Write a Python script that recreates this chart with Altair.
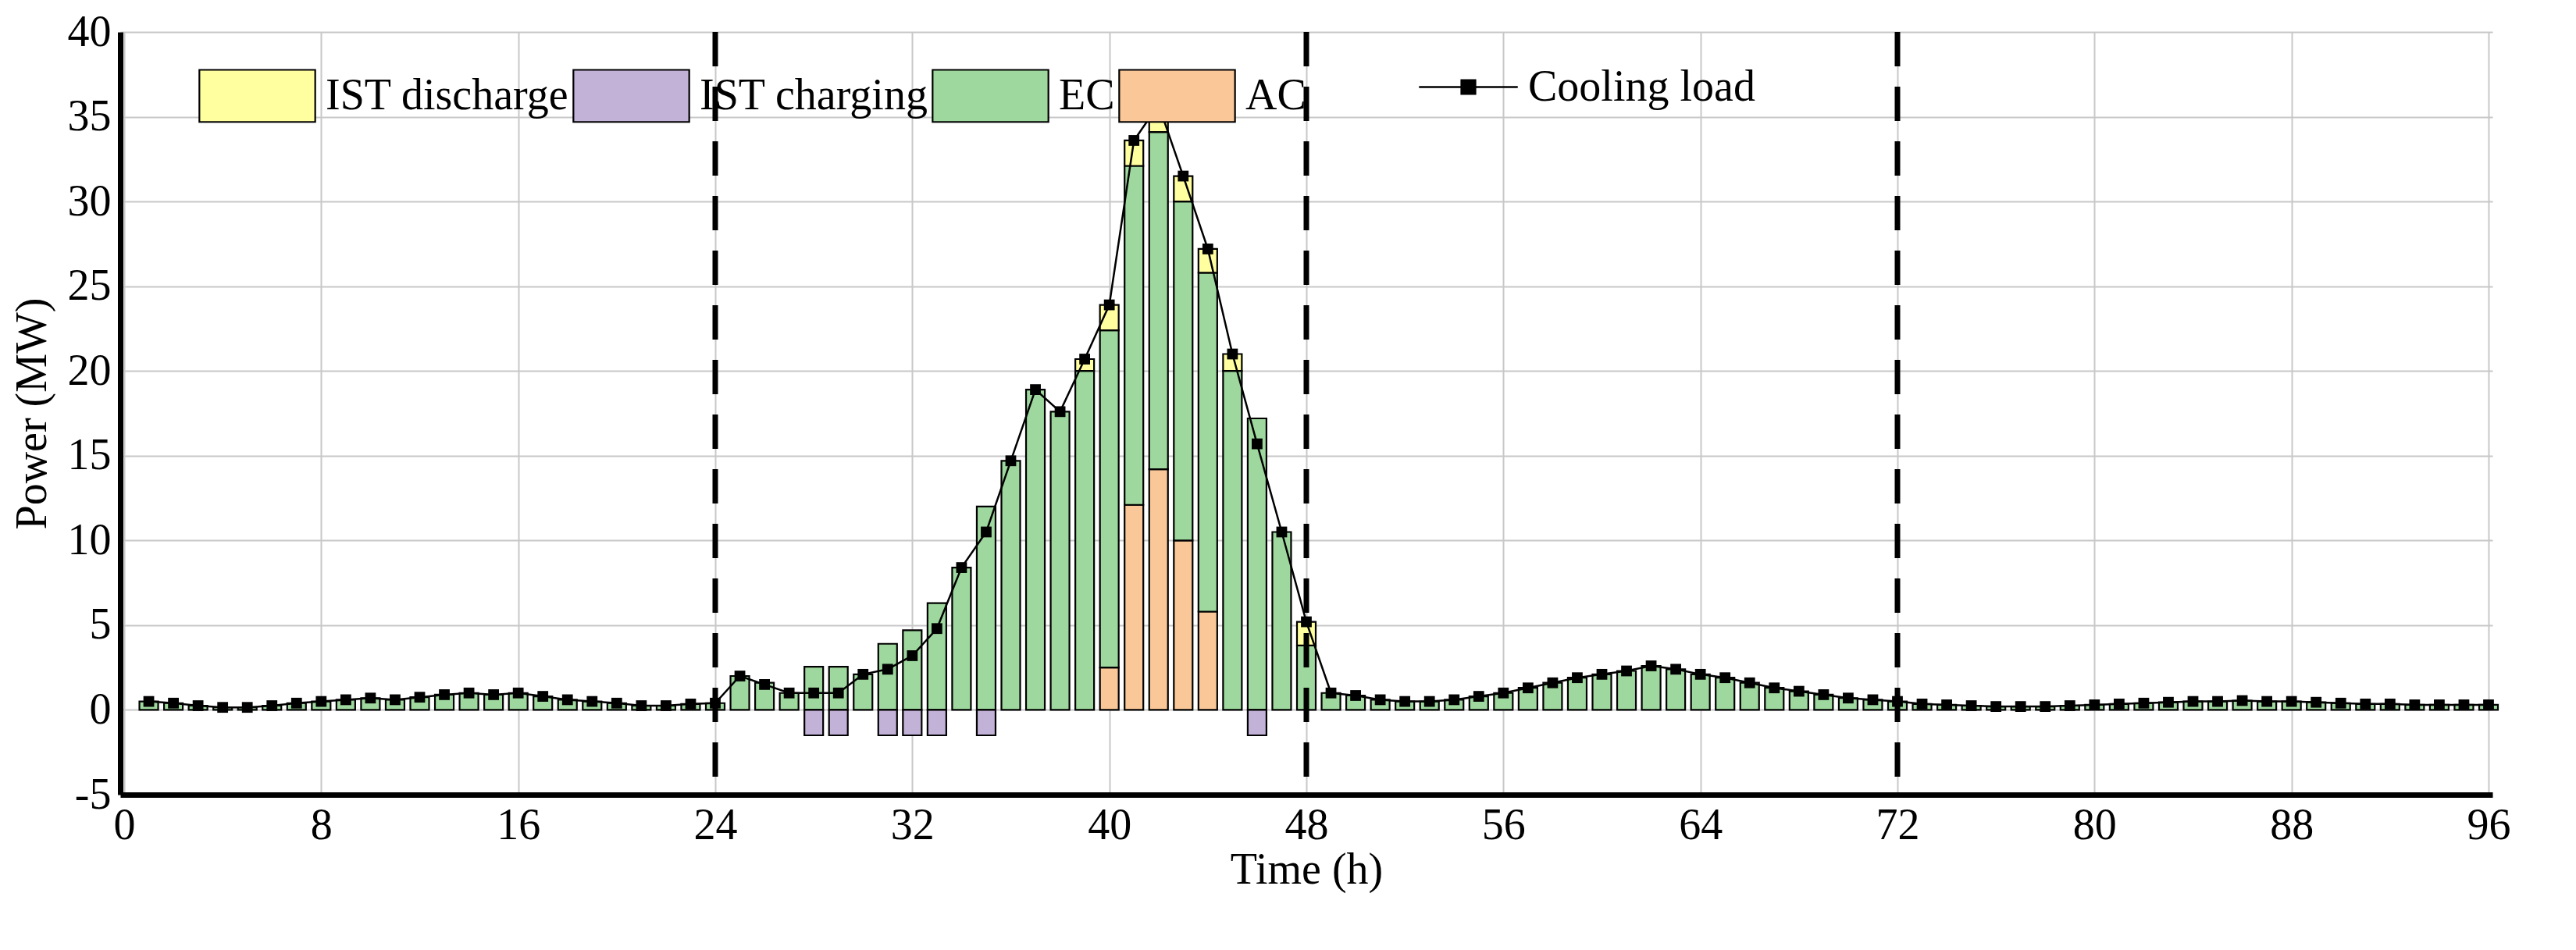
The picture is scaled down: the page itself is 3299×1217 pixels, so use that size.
"""Cooling power balance over four days."""

import altair as alt
import pandas as pd

FONT = "Liberation Serif"

hours = list(range(1, 97))

cooling_load = [
    0.5, 0.4, 0.25, 0.15, 0.15, 0.25, 0.4, 0.5, 0.6, 0.7, 0.6, 0.75,
    0.9, 1.0, 0.9, 1.0, 0.8, 0.6, 0.5, 0.4, 0.25, 0.25, 0.35, 0.4,
    2.0, 1.5, 1.0, 1.0, 1.0, 2.1, 2.4, 3.2, 4.8, 8.4, 10.5, 14.7,
    18.9, 17.6, 20.7, 23.9, 33.6, 35.7, 31.5, 27.2, 21.0, 15.7, 10.5, 5.2,
    1.0, 0.85, 0.6, 0.5, 0.5, 0.6, 0.8, 1.0, 1.3, 1.6, 1.9, 2.1,
    2.3, 2.6, 2.4, 2.1, 1.9, 1.6, 1.3, 1.1, 0.9, 0.7, 0.6, 0.5,
    0.35, 0.3, 0.25, 0.2, 0.2, 0.2, 0.25, 0.3, 0.35, 0.4, 0.45, 0.5,
    0.5, 0.55, 0.5, 0.5, 0.45, 0.4, 0.35, 0.35, 0.3, 0.3, 0.3, 0.3,
]

# day 2 detail (hours 25-48); other days EC covers the load
ec_day2 = [
    2.0, 1.6, 1.0, 2.55, 2.55, 2.1, 3.9, 4.7, 6.3, 8.4, 12.0, 14.7,
    18.9, 17.6, 20.0, 19.9, 20.0, 19.9, 20.0, 20.0, 20.0, 17.2, 10.5, 3.8,
]
ac_day2 = [
    0, 0, 0, 0, 0, 0, 0, 0, 0, 0, 0, 0,
    0, 0, 0, 2.5, 12.1, 14.2, 10.0, 5.8, 0, 0, 0, 0,
]
discharge_day2 = [
    0, 0, 0, 0, 0, 0, 0, 0, 0, 0, 0, 0,
    0, 0, 0.7, 1.5, 1.5, 1.6, 1.5, 1.4, 1.0, 0, 0, 1.4,
]
charging_day2 = [
    0, 0, 0, -1.5, -1.5, 0, -1.5, -1.5, -1.5, 0, -1.5, 0,
    0, 0, 0, 0, 0, 0, 0, 0, 0, -1.5, 0, 0,
]

day_bounds = [24, 48, 72]

series_names = ["IST discharge", "IST charging", "EC", "AC"]
series_colors = ["#FFFFA0", "#C2B2D8", "#9ED89E", "#FAC898"]
stack_order = {"AC": 0, "EC": 1, "IST discharge": 2, "IST charging": 3}

rows = []
for i, h in enumerate(hours):
    if 25 <= h <= 48:
        k = h - 25
        vals = {"AC": ac_day2[k], "EC": ec_day2[k],
                "IST discharge": discharge_day2[k], "IST charging": charging_day2[k]}
    else:
        vals = {"AC": 0, "EC": cooling_load[i], "IST discharge": 0, "IST charging": 0}
    for name, v in vals.items():
        if v != 0:
            rows.append({"Hour": h, "Series": name, "Power": v, "Order": stack_order[name]})
bars_df = pd.DataFrame(rows)
load_df = pd.DataFrame({"Hour": hours, "Power": cooling_load, "Name": "Cooling load"})
bounds_df = pd.DataFrame({"Hour": day_bounds})

x_scale = alt.Scale(domain=[0, 96], nice=False)
y_scale = alt.Scale(domain=[-5, 40], nice=False)

x_axis = alt.Axis(values=list(range(0, 97, 8)), title="Time (h)")
y_axis = alt.Axis(values=list(range(-5, 41, 5)), title="Power (MW)",
                  labelExpr="'' + datum.value")

bars = alt.Chart(bars_df).mark_bar(size=24, stroke="black", strokeWidth=2.2).encode(
    x=alt.X("Hour:Q", scale=x_scale, axis=x_axis),
    y=alt.Y("sum(Power):Q", scale=y_scale, axis=y_axis, stack="zero"),
    color=alt.Color("Series:N", scale=alt.Scale(domain=series_names, range=series_colors),
                    legend=alt.Legend(
                        title=None, orient="none", legendX=100, legendY=6,
                        direction="horizontal", symbolType="M-1,-0.45H1V0.45H-1Z",
                        symbolSize=22000, symbolStrokeColor="black", symbolStrokeWidth=2.2,
                        labelFontSize=56, labelFont=FONT, labelColor="black",
                        columnPadding=0, labelOffset=12, labelLimit=0,
                        symbolOpacity=1)),
    order=alt.Order("Order:Q"),
)

bounds = alt.Chart(bounds_df).mark_rule(
    color="black", strokeWidth=7, strokeDash=[44, 26]
).encode(x=alt.X("Hour:Q", scale=x_scale))

line = alt.Chart(load_df).mark_line(strokeWidth=2.5).encode(
    x=alt.X("Hour:Q", scale=x_scale),
    y=alt.Y("Power:Q", scale=y_scale),
    stroke=alt.Stroke("Name:N", scale=alt.Scale(range=["black"]),
                      legend=alt.Legend(
                          title=None, orient="none", legendX=1662, legendY=6,
                          symbolType="M-1,0H1M-0.14,-0.14H0.14V0.14H-0.14Z",
                          symbolSize=16000, symbolStrokeColor="black",
                          symbolFillColor="black", symbolStrokeWidth=2.5,
                          labelFontSize=56, labelFont=FONT, labelColor="black",
                          labelOffset=12, labelLimit=0)),
)

points = alt.Chart(load_df).mark_square(size=190, color="black", opacity=1).encode(
    x=alt.X("Hour:Q", scale=x_scale),
    y=alt.Y("Power:Q", scale=y_scale),
)

chart = alt.layer(bars, bounds, line, points).resolve_scale(
    color="independent", stroke="independent"
).properties(
    width=3038, height=977
).configure_axis(
    labelFont=FONT, titleFont=FONT, labelFontSize=56, titleFontSize=56,
    titleFontWeight="normal", labelColor="black", titleColor="black",
    domainColor="black", domainWidth=7, ticks=False, labelPadding=12,
    gridColor="#c8c8c8", gridWidth=2,
).configure_axisY(titlePadding=16).configure_axisX(titlePadding=2).configure_view(
    stroke=None
)

chart.save("out.html", embed_options={"renderer": "svg", "actions": False})
